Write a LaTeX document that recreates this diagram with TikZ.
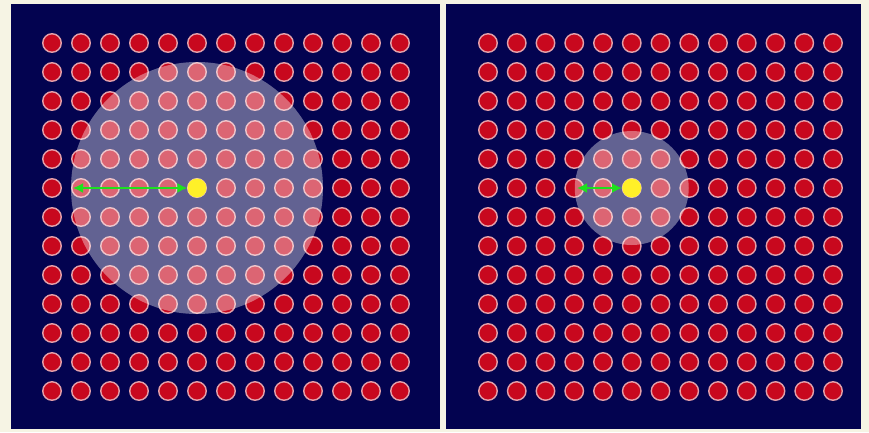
\documentclass[tikz,border=0pt]{standalone}
\usetikzlibrary{arrows.meta}
\definecolor{sheet}{RGB}{246,244,228}
\definecolor{navyblue}{RGB}{3,3,80}
\definecolor{dotred}{RGB}{200,8,30}
\definecolor{dotrim}{RGB}{228,160,170}
\definecolor{srcyellow}{RGB}{255,240,40}
\definecolor{raygreen}{RGB}{30,225,30}

\begin{document}
\begin{tikzpicture}[x=1pt, y=-1pt,
      panel/.style={fill=navyblue},
      dot/.style={circle, fill=dotred, draw=dotrim, line width=1.4pt,
                  minimum size=18.5pt, inner sep=0pt},
      halo/.style={fill=white, fill opacity=0.38},
      src/.style={circle, fill=srcyellow, minimum size=19pt, inner sep=0pt},
      ray/.style={{Latex[length=10pt,width=10pt]}-{Latex[length=10pt,width=10pt]},
                  raygreen, line width=1.8pt},
   ]

   \fill[sheet] (0,0) rectangle (869,432);
   \useasboundingbox (0,0) rectangle (869,432);

   % ---- panels ----
   \fill[panel] (11,4) rectangle (440,429);
   \fill[panel] (446,4) rectangle (861,429);

   % ---- dot grids (13 x 13) ----
   \foreach \i in {0,...,12}{
      \foreach \j in {0,...,12}{
         \node[dot] (L\i-\j) at ({52+\i*29}, {43+\j*29}) {};
         \node[dot] (R\i-\j) at ({488+\i*28.75}, {43+\j*29}) {};
      }
   }

   % ---- large range (LEFT) ----
   \fill[halo] (L5-5.center) circle[radius=126pt];
   \coordinate (Ledge) at (73,188);
   \node[src] (Lsrc) at (L5-5.center) {};
   \draw[ray] (Ledge) -- (Lsrc.west);

   % ---- small range (RIGHT) ----
   \fill[halo] (R5-5.center) circle[radius=57pt];
   \coordinate (Redge) at (577,188);
   \node[src] (Rsrc) at (R5-5.center) {};
   \draw[ray] (Redge) -- (Rsrc.west);

\end{tikzpicture}
\end{document}
